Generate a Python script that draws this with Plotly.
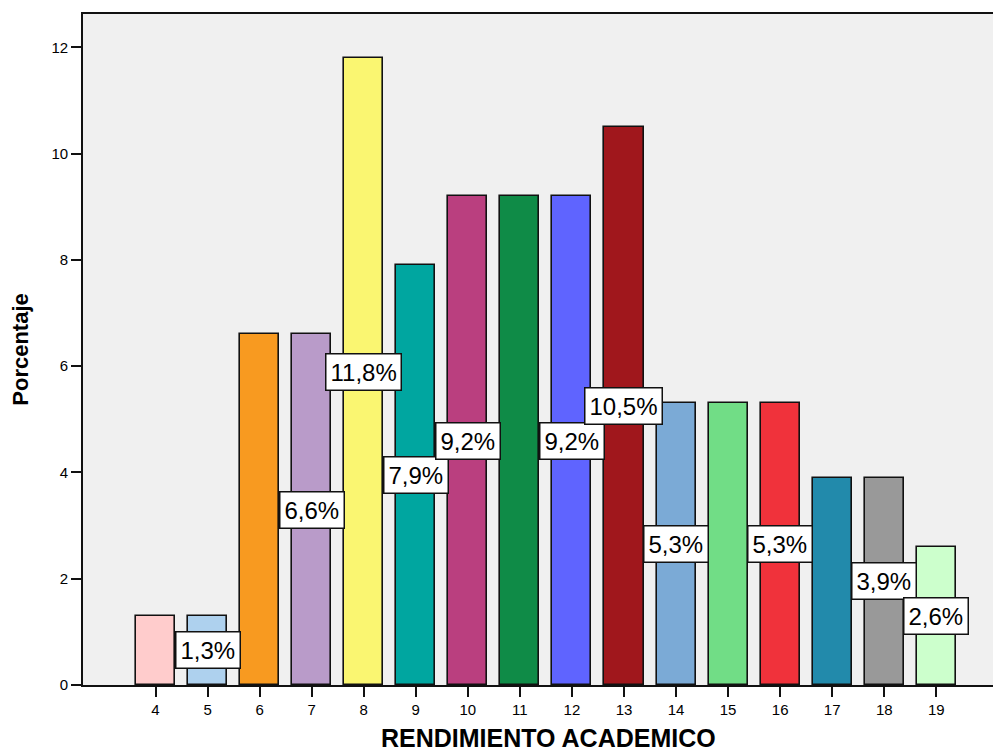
import plotly.graph_objects as go

# Academic performance score and percentage of students per score
scores = [4, 5, 6, 7, 8, 9, 10, 11, 12, 13, 14, 15, 16, 17, 18, 19]
percent = [1.3, 1.3, 6.6, 6.6, 11.8, 7.9, 9.2, 9.2, 9.2, 10.5, 5.3, 5.3, 5.3, 3.9, 3.9, 2.6]
# scores whose bar carries a percentage label
labelled = [5, 7, 8, 9, 10, 12, 13, 14, 16, 18, 19]
colors = ["#FFCCCC", "#AED1EE", "#F89A20", "#B99BC9", "#FAF671", "#00A6A0",
          "#BA3F7F", "#0F8B47", "#5F64FF", "#A0171C", "#7BAAD6", "#71DD86",
          "#F0323B", "#228AAB", "#999999", "#CCFFCC"]

y_ticks = [0, 2, 4, 6, 8, 10, 12]

fig = go.Figure()
fig.add_trace(go.Bar(
    x=scores, y=percent, width=0.75,
    marker=dict(color=colors, line=dict(color="#111111", width=1.6)),
    hoverinfo="x+y",
))

for s, p in zip(scores, percent):
    if s in labelled:
        fig.add_annotation(
            x=s, y=p / 2, xref="x", yref="y",
            text=f"{p:.1f}%".replace(".", ","),
            showarrow=False,
            font=dict(family="Liberation Sans, Arial", size=24, color="black"),
            bgcolor="white", bordercolor="#111111", borderwidth=1.5, borderpad=4,
        )

# x-axis title, placed in pixel terms relative to the plotting area
fig.add_annotation(
    x=(548 - 83) / (993 - 83), y=-(738 - 685) / (685 - 14),
    xref="paper", yref="paper", xanchor="center", yanchor="middle",
    text="<b>RENDIMIENTO ACADEMICO</b>",
    showarrow=False, font=dict(family="Liberation Sans, Arial", size=25, color="black"),
)

fig.update_layout(
    width=995, height=753,
    margin=dict(l=83, r=2, t=14, b=68),
    paper_bgcolor="white", plot_bgcolor="#F0F0F0",
    showlegend=False, bargap=0,
    font=dict(family="Liberation Sans, Arial", size=15, color="black"),
    xaxis=dict(
        range=[2.607, 20.089], tickvals=scores, ticktext=[str(s) for s in scores],
        showline=True, linecolor="#111111", linewidth=1.6, mirror=True,
        ticks="outside", ticklen=10, tickwidth=1.6, tickcolor="#111111",
        showgrid=False, zeroline=False, tickfont=dict(size=15),
    ),
    yaxis=dict(
        range=[0, 12.63], tickvals=y_ticks, ticktext=[str(t) for t in y_ticks],
        showline=True, linecolor="#111111", linewidth=1.6,
        ticks="outside", ticklen=10, tickwidth=1.6, tickcolor="#111111",
        showgrid=False, zeroline=False, tickfont=dict(size=15),
        title=dict(text="<b>Porcentaje</b>", font=dict(size=22), standoff=17),
    ),
)

fig.write_html("out.html")
